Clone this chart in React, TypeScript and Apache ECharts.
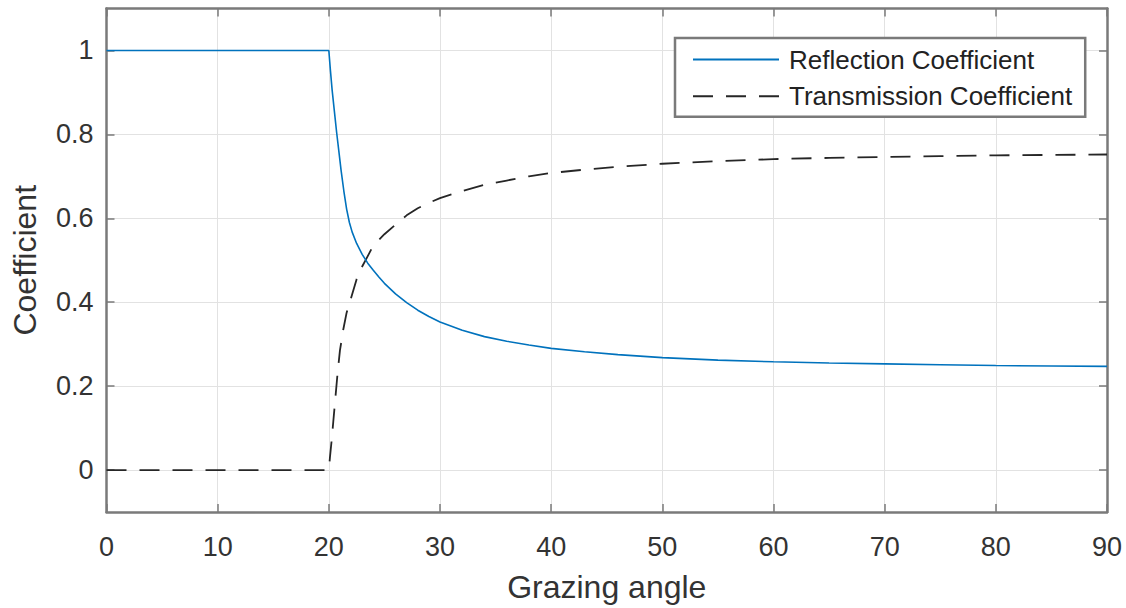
import React, { useEffect, useRef } from "react";
import * as echarts from "echarts";

const reflectionAngles = [0, 20, 20.15, 20.3, 20.5, 20.7, 20.9, 21.1, 21.35, 21.6, 21.85, 22.1, 22.5, 23, 23.5, 24, 24.5, 25, 26, 27, 28, 29, 30, 32, 34, 36, 38, 40, 43, 46, 50, 55, 60, 65, 70, 75, 80, 85, 90];
const reflection = [1, 1, 0.95, 0.905, 0.855, 0.805, 0.76, 0.715, 0.665, 0.622, 0.59, 0.567, 0.54, 0.514, 0.493, 0.476, 0.46, 0.445, 0.42, 0.399, 0.381, 0.366, 0.353, 0.333, 0.318, 0.307, 0.298, 0.29, 0.282, 0.275, 0.268, 0.262, 0.258, 0.255, 0.253, 0.251, 0.249, 0.248, 0.247];
const transmissionAngles = [0, 20, 20.1, 20.25, 20.4, 20.6, 20.8, 21, 21.3, 21.6, 22, 22.5, 23, 23.5, 24, 25, 26, 27, 28, 29, 30, 32, 34, 36, 38, 40, 43, 46, 50, 55, 60, 65, 70, 75, 80, 85, 90];
const transmission = [0, 0, 0.03, 0.07, 0.115, 0.175, 0.235, 0.285, 0.335, 0.375, 0.41, 0.455, 0.485, 0.51, 0.535, 0.562, 0.585, 0.607, 0.624, 0.637, 0.648, 0.665, 0.68, 0.69, 0.7, 0.708, 0.716, 0.723, 0.73, 0.736, 0.741, 0.744, 0.746, 0.748, 0.75, 0.751, 0.752];
const yTicks = [0, 0.2, 0.4, 0.6, 0.8, 1];
const seriesNames = ["Reflection Coefficient", "Transmission Coefficient"];

const FONT = "Liberation Sans, Arial, Helvetica, sans-serif";
const AXIS_COLOR = "#7a7a7a";
const TEXT_COLOR = "#333333";
const GRID_COLOR = "#e2e2e2";

export default function App() {
  const ref = useRef<HTMLDivElement>(null);
  useEffect(() => {
    if (!ref.current) return;
    const chart = echarts.init(ref.current, undefined, { renderer: "svg" });
    const tickStyle = { show: true, inside: true, length: 8, lineStyle: { color: AXIS_COLOR, width: 1.5 } };
    const lineStyle = { lineStyle: { color: AXIS_COLOR, width: 2.5 } };
    chart.setOption({
      animation: false,
      backgroundColor: "#ffffff",
      textStyle: { fontFamily: FONT },
      grid: { left: 106.5, right: 19, top: 8.5, bottom: 96, containLabel: false },
      legend: {
        left: 675,
        top: 38,
        orient: "vertical",
        selectedMode: false,
        data: seriesNames,
        itemWidth: 86,
        itemHeight: 14,
        itemGap: 1.7,
        padding: [4, 13, 3, 17],
        borderColor: AXIS_COLOR,
        borderWidth: 2.5,
        backgroundColor: "#ffffff",
        itemStyle: { opacity: 0 },
        textStyle: { fontSize: 26, color: "#222222", fontFamily: FONT, lineHeight: 28, padding: [7, 0, 0, 5] },
      },
      xAxis: [
        {
          type: "value",
          min: 0,
          max: 90,
          interval: 10,
          name: "Grazing angle",
          nameLocation: "middle",
          nameGap: 59,
          nameTextStyle: { fontSize: 32, color: TEXT_COLOR, fontFamily: FONT },
          axisLine: { show: true, onZero: false, ...lineStyle },
          axisTick: tickStyle,
          axisLabel: { fontSize: 27, color: TEXT_COLOR, margin: 21, fontFamily: FONT },
          splitLine: { show: true, lineStyle: { color: GRID_COLOR, width: 1 } },
        },
        {
          type: "value",
          position: "top",
          min: 0,
          max: 90,
          interval: 10,
          axisLine: { show: true, onZero: false, ...lineStyle },
          axisTick: tickStyle,
          axisLabel: { show: false },
          splitLine: { show: false },
        },
      ],
      yAxis: [
        {
          type: "value",
          min: -0.1,
          max: 1.1,
          name: "Coefficient",
          nameLocation: "middle",
          nameGap: 65.5,
          nameTextStyle: { fontSize: 32, color: TEXT_COLOR, fontFamily: FONT },
          axisLine: { show: true, onZero: false, ...lineStyle },
          axisTick: { ...tickStyle, customValues: yTicks },
          axisLabel: { fontSize: 27, color: TEXT_COLOR, margin: 13, fontFamily: FONT, customValues: yTicks, formatter: (v: number) => String(Math.round(v * 10) / 10) },
          splitLine: { show: true, lineStyle: { color: GRID_COLOR, width: 1 } },
        },
        {
          type: "value",
          position: "right",
          min: -0.1,
          max: 1.1,
          axisLine: { show: true, onZero: false, ...lineStyle },
          axisTick: { ...tickStyle, customValues: yTicks },
          axisLabel: { show: false, customValues: yTicks },
          splitLine: { show: false },
        },
      ],
      series: [
        {
          name: seriesNames[0],
          type: "line",
          xAxisIndex: 0,
          yAxisIndex: 0,
          symbol: "none",
          smooth: false,
          data: reflectionAngles.map((a, i) => [a, reflection[i]]),
          lineStyle: { color: "#0072BD", width: 1.6 },
          itemStyle: { color: "#0072BD" },
          z: 3,
        },
        {
          name: seriesNames[1],
          type: "line",
          xAxisIndex: 0,
          yAxisIndex: 0,
          symbol: "none",
          smooth: false,
          data: transmissionAngles.map((a, i) => [a, transmission[i]]),
          lineStyle: { color: "#262626", width: 1.8, type: [20, 13] },
          itemStyle: { color: "#262626" },
          z: 2,
        },
      ],
    });
    return () => chart.dispose();
  }, []);
  return <div ref={ref} style={{ position: "absolute", left: 0, top: 0, width: 1126, height: 608 }} />;
}
